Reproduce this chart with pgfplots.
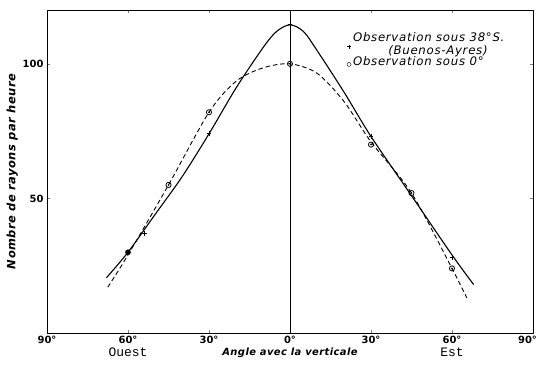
\documentclass[border=0pt]{standalone}
\usepackage{fontspec}
\setmainfont{DejaVu Sans}
\setsansfont{DejaVu Sans}
\setmonofont{Liberation Mono}
\newfontfamily\legfont[LetterSpace=6]{DejaVu Sans}
\newfontfamily\labfont[LetterSpace=4]{DejaVu Sans}
\usepackage{pgfplots}
\pgfplotsset{compat=1.18}
\begin{document}
\begin{tikzpicture}
\begin{axis}[
  scale only axis, width=486bp, height=323bp,
  at={(0,0)}, anchor=south west,
  xmin=-90, xmax=90, ymin=0, ymax=120,
  xtick={-90,-60,-30,0,30,60,90},
  xticklabels={90°,60°,30°,0°,30°,60°,\hspace*{-11bp}90°},
  ytick={50,100},
  tick align=inside, major tick length=3bp,
  ticklabel style={font=\sffamily\bfseries\fontsize{10}{12}\selectfont},
  /pgf/number format/assume math mode=true,
  axis line style={line width=0.8pt},
  ylabel={\labfont\itshape\bfseries\fontsize{11.5}{13}\selectfont Nombre de rayons par heure},
  ylabel style={yshift=-2bp},
  legend style={draw=none, fill=none, at={(0.615,0.94)}, anchor=north west,
    font=\legfont\itshape\fontsize{11.8}{13}\selectfont, nodes={align=left}, row sep=-3pt,
    legend cell align=left, inner sep=1pt},
  legend image code/.code={\draw[#1] plot coordinates {(0.15cm,-0.08cm)};},
  clip=false,
]
\addlegendimage{only marks, mark=+, mark size=2pt, black}
\addlegendentry{Observation sous 38°S.\\\hspace*{3.0em}(Buenos-Ayres)}
\addlegendimage{only marks, mark=o, mark size=2pt, black}
\addlegendentry{Observation sous 0°}
\addplot[black, line width=0.6pt, forget plot] coordinates {(0,0)(0,120)};
% solid curve (38 S)
\addplot[black, line width=1.1pt, smooth, tension=0.5, forget plot] coordinates {
(-68,20.5)(-60,30)(-50,44)(-40,58)(-30,74)(-20,91)(-10,106)(-5,112)(0,114.5)
(5,112)(10,105)(20,89.5)(30,73)(45,51)(60,29)(68,18)};
% dashed curve (0)
\addplot[black, line width=0.9pt, dash pattern=on 4.5pt off 3pt, smooth, tension=0.5, forget plot] coordinates {
(-67.5,17)(-60,29)(-45,55)(-30,82)(-20,93.5)(-10,98.5)(0,100)
(10,96.5)(20,86)(30,71)(45,52)(60,24)(65.5,13)};
\addplot[only marks, mark=+, mark size=2.4pt, line width=0.8pt, black, forget plot] coordinates {
(-54,37)(-30,74)(0,114.5)(30,73)(60,28)};
\addplot[only marks, mark=*, mark size=2.6pt, black, forget plot] coordinates {(-60,30)};
\addplot[only marks, mark=o, mark size=2.6pt, line width=0.8pt, black, forget plot] coordinates {
(-45,55)(-30,82)(0,100)(30,70)(45,52)(60,24)};
\addplot[only marks, mark=*, mark size=0.6pt, black, forget plot] coordinates {
(-45,55)(-30,82)(0,100)(30,70)(45,52)(60,24)};
\node[font=\ttfamily\fontsize{13}{15}\selectfont] at (axis cs:-60,-7.2) {Ouest};
\node[font=\ttfamily\fontsize{13}{15}\selectfont] at (axis cs:60,-7.2) {Est};
\node[font=\labfont\itshape\bfseries\fontsize{10}{12}\selectfont] at (axis cs:0,-7.2) {Angle avec la verticale};
\end{axis}
\pgfresetboundingbox
\path (-47bp,-33bp) rectangle (492bp,333bp);
\end{tikzpicture}
\end{document}
